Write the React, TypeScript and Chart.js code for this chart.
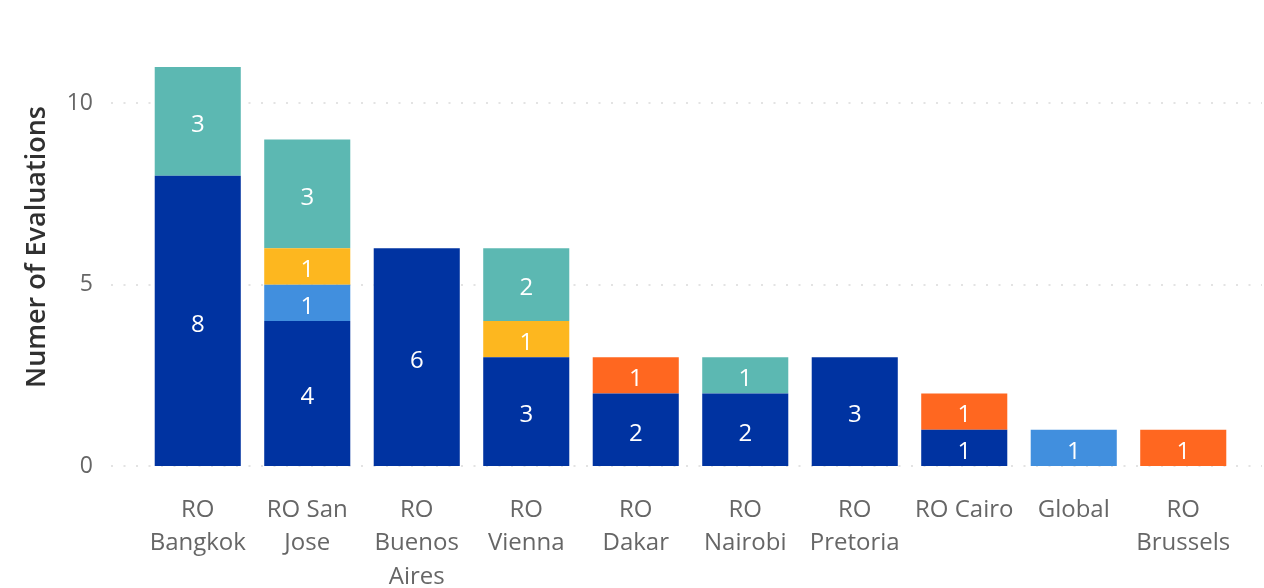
import React, { useEffect, useRef } from "react";
import { Chart, registerables } from "chart.js";

Chart.register(...registerables);

const categories: (string | string[])[] = [
  ["RO", "Bangkok"],
  ["RO San", "Jose"],
  ["RO", "Buenos", "Aires"],
  ["RO", "Vienna"],
  ["RO", "Dakar"],
  ["RO", "Nairobi"],
  ["RO", "Pretoria"],
  "RO Cairo",
  "Global",
  ["RO", "Brussels"],
];

const seriesDarkBlue = [8, 4, 6, 3, 2, 2, 3, 1, null, null];
const seriesLightBlue = [null, 1, null, null, null, null, null, null, 1, null];
const seriesYellow = [null, 1, null, 1, null, null, null, null, null, null];
const seriesTeal = [3, 3, null, 2, null, 1, null, null, null, null];
const seriesOrange = [null, null, null, null, 1, null, null, 1, null, 1];

const yTicks = [0, 5, 10];
const yTitle = "Numer of Evaluations";

const FONT = "'Open Sans', 'Noto Sans', sans-serif";

const barLabels = {
  id: "barLabels",
  afterDatasetsDraw(chart: any) {
    const ctx = chart.ctx;
    ctx.save();
    ctx.fillStyle = "#ffffff";
    ctx.font = `24px ${FONT}`;
    ctx.textAlign = "center";
    ctx.textBaseline = "middle";
    chart.data.datasets.forEach((ds: any, di: number) => {
      const meta = chart.getDatasetMeta(di);
      meta.data.forEach((el: any, i: number) => {
        const v = ds.data[i];
        if (v == null || v === 0) return;
        ctx.fillText(String(v), el.x, (el.y + el.base) / 2 + 4);
      });
    });
    ctx.restore();
  },
};

const dottedGrid = {
  id: "dottedGrid",
  beforeDatasetsDraw(chart: any) {
    const ctx = chart.ctx;
    const y = chart.scales.y;
    ctx.save();
    ctx.strokeStyle = "#e3e3e3";
    ctx.lineWidth = 2;
    ctx.setLineDash([2, 10.5]);
    yTicks.forEach((t) => {
      const py = Math.round(y.getPixelForValue(t));
      ctx.beginPath();
      ctx.moveTo(111, py);
      ctx.lineTo(1262, py);
      ctx.stroke();
    });
    ctx.restore();
  },
};

const axisTitle = {
  id: "axisTitle",
  afterDraw(chart: any) {
    const ctx = chart.ctx;
    ctx.save();
    ctx.translate(37, 247);
    ctx.rotate(-Math.PI / 2);
    ctx.fillStyle = "#303030";
    ctx.font = `600 27px ${FONT}`;
    ctx.textAlign = "center";
    ctx.textBaseline = "middle";
    ctx.fillText(yTitle, 0, 0);
    ctx.restore();
  },
};

export default function App() {
  const ref = useRef<HTMLCanvasElement | null>(null);
  useEffect(() => {
    if (!ref.current) return;
    const chart = new Chart(ref.current, {
      type: "bar",
      data: {
        labels: categories,
        datasets: [
          { label: "Series 1", data: seriesDarkBlue, backgroundColor: "#0033A1" },
          { label: "Series 2", data: seriesLightBlue, backgroundColor: "#418FDE" },
          { label: "Series 3", data: seriesYellow, backgroundColor: "#FDB71F" },
          { label: "Series 4", data: seriesTeal, backgroundColor: "#5CB8B2" },
          { label: "Series 5", data: seriesOrange, backgroundColor: "#FF6720" },
        ],
      },
      options: {
        animation: false,
        responsive: true,
        maintainAspectRatio: false,
        layout: { padding: { top: 67, right: 26, left: 0, bottom: 0 } },
        plugins: {
          legend: { display: false },
          tooltip: { enabled: false },
        },
        datasets: {
          bar: { categoryPercentage: 1, barPercentage: 0.786 },
        },
        scales: {
          x: {
            stacked: true,
            grid: { display: false, drawTicks: false },
            border: { display: false },
            ticks: {
              maxRotation: 0,
              autoSkip: false,
              padding: 27,
              color: "#666666",
              font: { family: FONT, size: 24, lineHeight: 1.4 },
            },
            afterFit(scale: any) {
              scale.height = 122;
            },
          },
          y: {
            stacked: true,
            min: 0,
            max: 11,
            afterBuildTicks(scale: any) {
              scale.ticks = yTicks.map((v) => ({ value: v }));
            },
            grid: { display: false, drawTicks: false },
            border: { display: false },
            ticks: {
              padding: 50,
              color: "#666666",
              font: { family: FONT, size: 23 },
            },
            afterFit(scale: any) {
              scale.width = 143;
            },
          },
        },
      },
      plugins: [dottedGrid, barLabels, axisTitle],
    });
    return () => chart.destroy();
  }, []);
  return (
    <div style={{ position: "fixed", left: 0, top: 0, width: 1264, height: 588, background: "#fff" }}>
      <canvas ref={ref} />
    </div>
  );
}
